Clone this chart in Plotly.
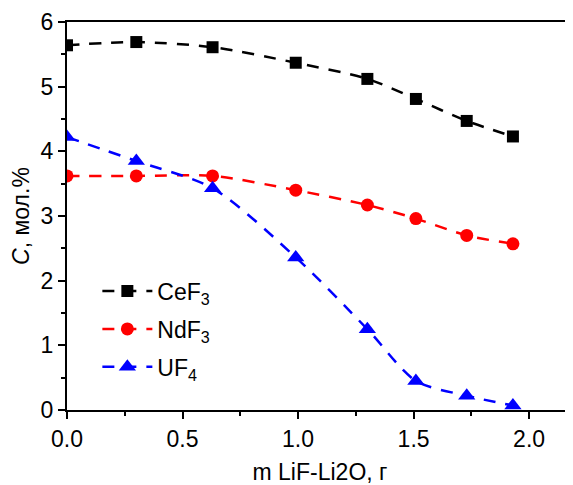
import plotly.graph_objects as go

x_mass = [0.0, 0.30, 0.63, 0.99, 1.30, 1.51, 1.73, 1.93]
cef3 = [5.64, 5.69, 5.61, 5.37, 5.12, 4.81, 4.47, 4.23]
ndf3 = [3.62, 3.62, 3.62, 3.40, 3.17, 2.96, 2.70, 2.57]
uf4 = [4.22, 3.85, 3.43, 2.36, 1.25, 0.45, 0.22, 0.07]

series = [
    ("CeF<sub>3</sub>", cef3, "black", "square", 12),
    ("NdF<sub>3</sub>", ndf3, "red", "circle", 13),
    ("UF<sub>4</sub>", uf4, "blue", "triangle-up", 15),
]

fig = go.Figure()
for i, (name, yv, col, sym, sz) in enumerate(series):
    fig.add_trace(go.Scatter(
        x=x_mass, y=yv, name=name, mode="lines+markers", legendgroup=f"g{i}",
        line=dict(color=col, width=2.5, dash="12px,10px", shape="spline", smoothing=0.8),
        marker=dict(symbol=sym, size=sz, color=col),
    ))

font = "Liberation Sans, Arial, sans-serif"
fig.update_layout(
    width=565, height=477,
    margin=dict(l=59, r=0, t=14, b=75),
    paper_bgcolor="white", plot_bgcolor="white",
    font=dict(family=font, size=23, color="black"),
    showlegend=True,
    legend=dict(x=0.06, y=0.362, xanchor="left", yanchor="top",
                bgcolor="rgba(0,0,0,0)", font=dict(size=23),
                tracegroupgap=5, itemwidth=50),
)
fig.update_xaxes(
    range=[0, 2.19], automargin=False, showline=True, linecolor="black", linewidth=2, mirror=True,
    ticks="outside", ticklen=7, tickwidth=1.5, tickcolor="black",
    tickvals=[0, 0.5, 1.0, 1.5, 2.0], ticktext=["0.0", "0.5", "1.0", "1.5", "2.0"],
    minor=dict(tickvals=[0.25, 0.75, 1.25, 1.75], ticks="outside", ticklen=4, tickcolor="black", tickwidth=1.5),
    showgrid=False, zeroline=False,
    title=dict(text="m LiF-Li2O, г", font=dict(size=23), standoff=16),
    tickfont=dict(size=23),
)
fig.update_yaxes(
    range=[0, 6], automargin=False, showline=True, linecolor="black", linewidth=2, mirror=False,
    ticks="outside", ticklen=7, tickwidth=1.5, tickcolor="black",
    tickvals=[0, 1, 2, 3, 4, 5, 6],
    minor=dict(tickvals=[0.5, 1.5, 2.5, 3.5, 4.5, 5.5], ticks="outside", ticklen=4, tickcolor="black", tickwidth=1.5),
    showgrid=False, zeroline=False,
    title=dict(text="<i>C</i>, мол.%", font=dict(size=23), standoff=6),
    tickfont=dict(size=23),
)
fig.write_html("out.html")
